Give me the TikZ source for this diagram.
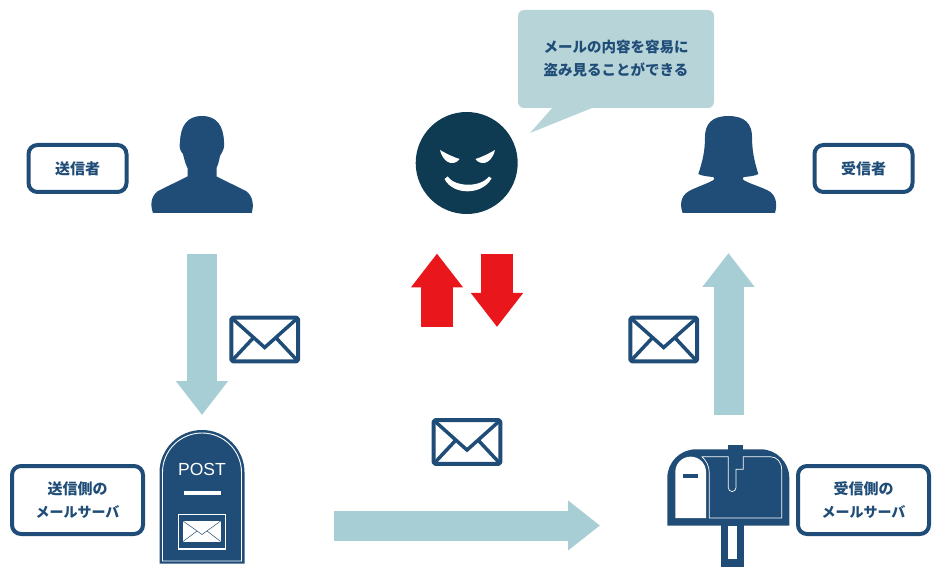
\documentclass[tikz,border=0pt]{standalone}
\usepackage{fontspec}
\newfontfamily\jp{Noto Sans CJK JP}
\setsansfont{Liberation Sans}
\usetikzlibrary{arrows.meta}
\definecolor{navy}{HTML}{204D77}
\definecolor{nightblue}{HTML}{0E3A52}
\definecolor{paleblue}{HTML}{A6CED4}
\definecolor{bubblegray}{HTML}{B7D5D9}
\definecolor{alarmred}{HTML}{E9171C}
\newcommand{\katakana}{\fontsize{14}{23}\selectfont}
\tikzset{
  x=1pt,
  y=-1pt,
  every node/.style={font=\jp\bfseries\fontsize{15}{23}\selectfont, text=navy, align=center},
  tag/.style={draw=navy, line width=4pt, rounded corners=9pt, fill=white, minimum width=98pt},
  person/.style={fill=navy},
  flow/.style={draw=paleblue, line width=30pt, -{Triangle[length=34pt, width=50pt]}},
  alarm/.style={draw=alarmred, line width=32pt, -{Triangle[length=34pt, width=50pt]}},
  envelope/.pic={
    \draw[navy, line width=4pt, fill=white, rounded corners=1.5pt, line join=round]
      (-33.3,-21.8) rectangle (33.3,21.8);
    \draw[navy, line width=3.5pt]
      (-33.3,-21.8) -- (0,8) -- (33.3,-21.8)
      (-33.3,21.8) -- (-11.5,-1.5)
      (33.3,21.8) -- (11.5,-1.5);
  },
}

\begin{document}
\begin{tikzpicture}
	\useasboundingbox (0,0) rectangle (938,580);

	% labels
	\node[tag, minimum height=47pt] (sender) at (77.5,168.5) {送信者};
	\node[tag, minimum height=47pt, right of=sender, node distance=786pt] (receiver) {受信者};
	\node[tag, minimum width=131pt, minimum height=68pt] (sendserver) at (77.5,500) {送信側の\\\katakana メールサーバ};
	\node[tag, minimum width=131pt, minimum height=68pt, right of=sendserver, node distance=786pt] (recvserver) {受信側の\\\katakana メールサーバ};

	% speech bubble
	\coordinate (tailtip) at (530,133);
	\fill[bubblegray] (554,106) -- (tailtip) -- (597,106) -- cycle;
	\node[fill=bubblegray, rounded corners=6pt, minimum width=196pt, minimum height=98pt,
		font=\jp\bfseries\fontsize{14.5}{23}\selectfont] (bubble) at (616,59)
		{メールの内容を容易に\\盗み見ることができる};

	% sender
	\fill[person] (153,213) .. controls (150,205) and (151,196) .. (158,191)
		-- (187.5,176.5) -- (187.5,168)
		.. controls (185,163) and (184,158) .. (183,154)
		.. controls (180,151) and (179,147) .. (180,142)
		.. controls (180.5,126) and (187,116) .. (202,116)
		.. controls (217,116) and (223.5,126) .. (224,142)
		.. controls (225,147) and (223,151) .. (220,156)
		.. controls (219,161) and (218,165) .. (216.5,168)
		-- (216.5,176.5) -- (246,191)
		.. controls (253,196) and (254,205) .. (251.7,213) -- cycle;

	% receiver
	\fill[person] (682.7,213) .. controls (680,206) and (680,197) .. (688,191.7)
		.. controls (696,187) and (707,184) .. (713.5,180)
		.. controls (715,178.5) and (714.5,177.5) .. (713,177)
		.. controls (708,176.5) and (702,176) .. (698.3,174)
		.. controls (703,160) and (705,150) .. (705,136.7)
		.. controls (705,124) and (712,116) .. (728.3,116)
		.. controls (745,116) and (752,124) .. (752,136.7)
		.. controls (752,150) and (754,160) .. (758.3,174)
		.. controls (755,176) and (749,176.5) .. (744,177)
		.. controls (742.5,177.5) and (742,178.5) .. (743.5,180)
		.. controls (750,184) and (762,187) .. (770,191.7)
		.. controls (777,197) and (777,206) .. (775,213) -- cycle;

	% wiretapper
	\node[circle, fill=nightblue, minimum size=102pt] (face) at (466.7,163) {};
	\fill[white] (440,150) .. controls (447,154) and (453,157) .. (459.5,159)
		.. controls (456,165) and (444,166) .. (440,150) -- cycle;
	\fill[white] (495,150) .. controls (488,154) and (482,157) .. (475.5,159)
		.. controls (479,165) and (491,166) .. (495,150) -- cycle;
	\fill[white] (447.5,176.5) .. controls (455,187) and (480,188) .. (489,176.5)
		-- (491.5,178.5) .. controls (482,195.5) and (453,195.5) .. (444.5,179) -- cycle;

	% post box
	\fill[navy] (159.5,563.5) -- (159.5,472.5) arc[start angle=180, end angle=360, radius=42.5] -- (244.5,563.5) -- cycle;
	\draw[white, line width=0.9pt] (162.5,561) -- (162.5,472.5) arc[start angle=180, end angle=360, radius=39.5] -- (241.5,561) -- cycle;
	\node[font=\sffamily\fontsize{17.5}{17.5}\selectfont, text=white, inner sep=0pt] (posttext) at (202,469) {POST};
	\fill[white] (184,491) rectangle (220.7,495);
	\draw[white, line width=1.3pt] (178.5,514.5) rectangle (225.5,549);
	\fill[white] (183,521) rectangle (220.7,541.5);
	\draw[navy, line width=0.5pt] (183,521) -- (202,534.5) -- (220.7,521)
		(183,541.5) -- (197,531) (220.7,541.5) -- (207,531);

	% mail box
	\fill[navy] (728.3,445.3) rectangle (743.3,462);
	\fill[navy] (720.7,520) rectangle (744,566.7);
	\fill[white] (728.3,525.7) rectangle (736.7,559.3);
	\fill[navy] (667.3,525.7) -- (667.3,478) arc[start angle=180, end angle=270, radius=28.7]
		-- (760.6,449.3) arc[start angle=270, end angle=360, radius=28.7] -- (789.3,525.7) -- cycle;
	\fill[white] (675.3,518) -- (675.3,472) arc[start angle=180, end angle=360, radius=15.35] -- (706,518) -- cycle;
	\fill[navy] (683.3,474) rectangle (698,477.5);
	\draw[white, line width=0.7pt] (701.7,456.7) -- (728.3,456.7) -- (728.3,487.7)
		arc[start angle=180, end angle=0, radius=3.85] -- (736,469.3) -- (743.3,469.3) -- (743.3,456.7) -- (770,456.7)
		.. controls (777,456.7) and (781.7,462) .. (781.7,470) -- (781.7,518) -- (709.3,518) -- (709.3,473)
		.. controls (709.3,466) and (706,460) .. (701.7,456.7);

	% mails
	\pic at (264.7,339.5) {envelope};
	\pic at (663.7,339.5) {envelope};
	\pic at (467,442) {envelope};

	% flows
	\coordinate (sendertop) at (202,254);
	\coordinate (postin) at (202,415);
	\coordinate (postout) at (334,525.5);
	\coordinate (mailin) at (600,525.5);
	\coordinate (mailout) at (728.5,415);
	\coordinate (receivertop) at (728.5,253);
	\draw[flow] (sendertop) -- (postin);
	\draw[flow, -{Triangle[length=32pt, width=48pt]}] (postout) -- (mailin);
	\draw[flow] (mailout) -- (receivertop);

	% tapping
	\coordinate (upfoot) at (437,327);
	\coordinate (uphead) at (437,253.5);
	\coordinate (downfoot) at (497,254);
	\coordinate (downhead) at (497,327);
	\draw[alarm] (upfoot) -- (uphead);
	\draw[alarm] (downfoot) -- (downhead);
\end{tikzpicture}
\end{document}
